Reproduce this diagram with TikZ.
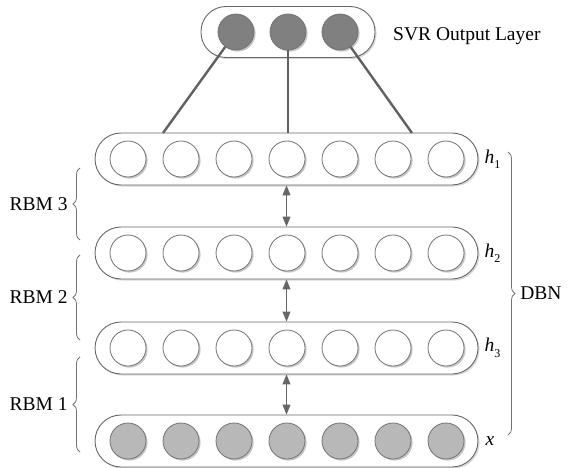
\documentclass[tikz,border=0pt]{standalone}
\usepackage{fontspec}
\setmainfont{Liberation Serif}
\usetikzlibrary{arrows.meta,positioning,shadows,decorations.pathreplacing}

\newcommand{\hsub}[2]{\textit{#1}\raisebox{-0.28em}{\fontsize{12}{14}\selectfont #2}}

\tikzset{
  neuron/.style={circle,draw=black!55,fill=white,line width=0.8pt,
    minimum size=36pt,inner sep=0pt,
    drop shadow={shadow xshift=1.6pt,shadow yshift=-1.6pt,fill=black!22,opacity=1}},
  visible/.style={neuron,fill=black!28},
  output/.style={neuron,fill=black!50},
  layer/.style={rectangle,draw=black!60,fill=white,line width=0.9pt,
    rounded corners=26pt,minimum width=383pt,minimum height=52pt,inner sep=0pt,
    drop shadow={shadow xshift=1.6pt,shadow yshift=-1.6pt,fill=black!15,opacity=1}},
  outlayer/.style={layer,minimum width=174pt,minimum height=51pt,rounded corners=25pt},
  wire/.style={draw=black!62,line width=2.4pt},
  updown/.style={{Triangle[width=8pt,length=10pt]}-{Triangle[width=8pt,length=10pt]},
    draw=black!60,fill=black!60,line width=1pt},
  brace/.style={decorate,decoration={brace,amplitude=7pt},draw=black!55,line width=0.8pt},
  lbl/.style={inner sep=0pt,font=\fontsize{19.5}{22}\selectfont}
}

\begin{document}
\begin{tikzpicture}[x=1pt,y=1pt]
  \useasboundingbox (0,0) rectangle (570,467);

  % output layer
  \node[outlayer] (out) at (288,435) {};
  \node[output] (o1) at (236,435) {};
  \node[output] (o2) at (288,435) {};
  \node[output] (o3) at (340,435) {};
  \node[lbl,anchor=west] (svr) at (393,431) {SVR Output Layer};

  % hidden and visible layers
  \foreach \l/\y/\s in {h1/308/neuron,h2/214/neuron,h3/119/neuron,x/26/visible} {
    \node[layer] (\l) at (286.5,\y) {};
    \foreach \i in {1,...,7}
      \node[\s] (\l-\i) at ({128+53*(\i-1)},\y) {};
  }

  \node[lbl,right=6pt of h1] (lh1) {\hsub{h}{1}};
  \node[lbl,right=6pt of h2] (lh2) {\hsub{h}{2}};
  \node[lbl,right=6pt of h3] (lh3) {\hsub{h}{3}};
  \node[lbl,right=7pt of x]  (lx)  {\textit{x}};

  % connections to the SVR layer
  \coordinate (t1) at (163,334);
  \coordinate (t2) at (288,334);
  \coordinate (t3) at (412,334);
  \draw[wire] (o1) -- (t1);
  \draw[wire] (o2) -- (t2);
  \draw[wire] (o3) -- (t3);

  \draw[updown] (h1) -- (h2);
  \draw[updown] (h2) -- (h3);
  \draw[updown] (h3) -- (x);

  % braces
  \coordinate (r3a) at (80,227);  \coordinate (r3b) at (80,299);
  \coordinate (r2a) at (80,127);  \coordinate (r2b) at (80,212);
  \coordinate (r1a) at (80,15);   \coordinate (r1b) at (80,110);
  \coordinate (da) at (508,315);  \coordinate (db) at (508,32);
  \draw[brace] (r3a) -- (r3b) node[lbl,midway,left=12pt] (rbm3) {RBM 3};
  \draw[brace] (r2a) -- (r2b) node[lbl,midway,left=12pt] (rbm2) {RBM 2};
  \draw[brace] (r1a) -- (r1b) node[lbl,midway,left=12pt] (rbm1) {RBM 1};
  \draw[brace] (da) -- (db) node[lbl,midway,right=12pt] (dbn) {DBN};
\end{tikzpicture}
\end{document}
